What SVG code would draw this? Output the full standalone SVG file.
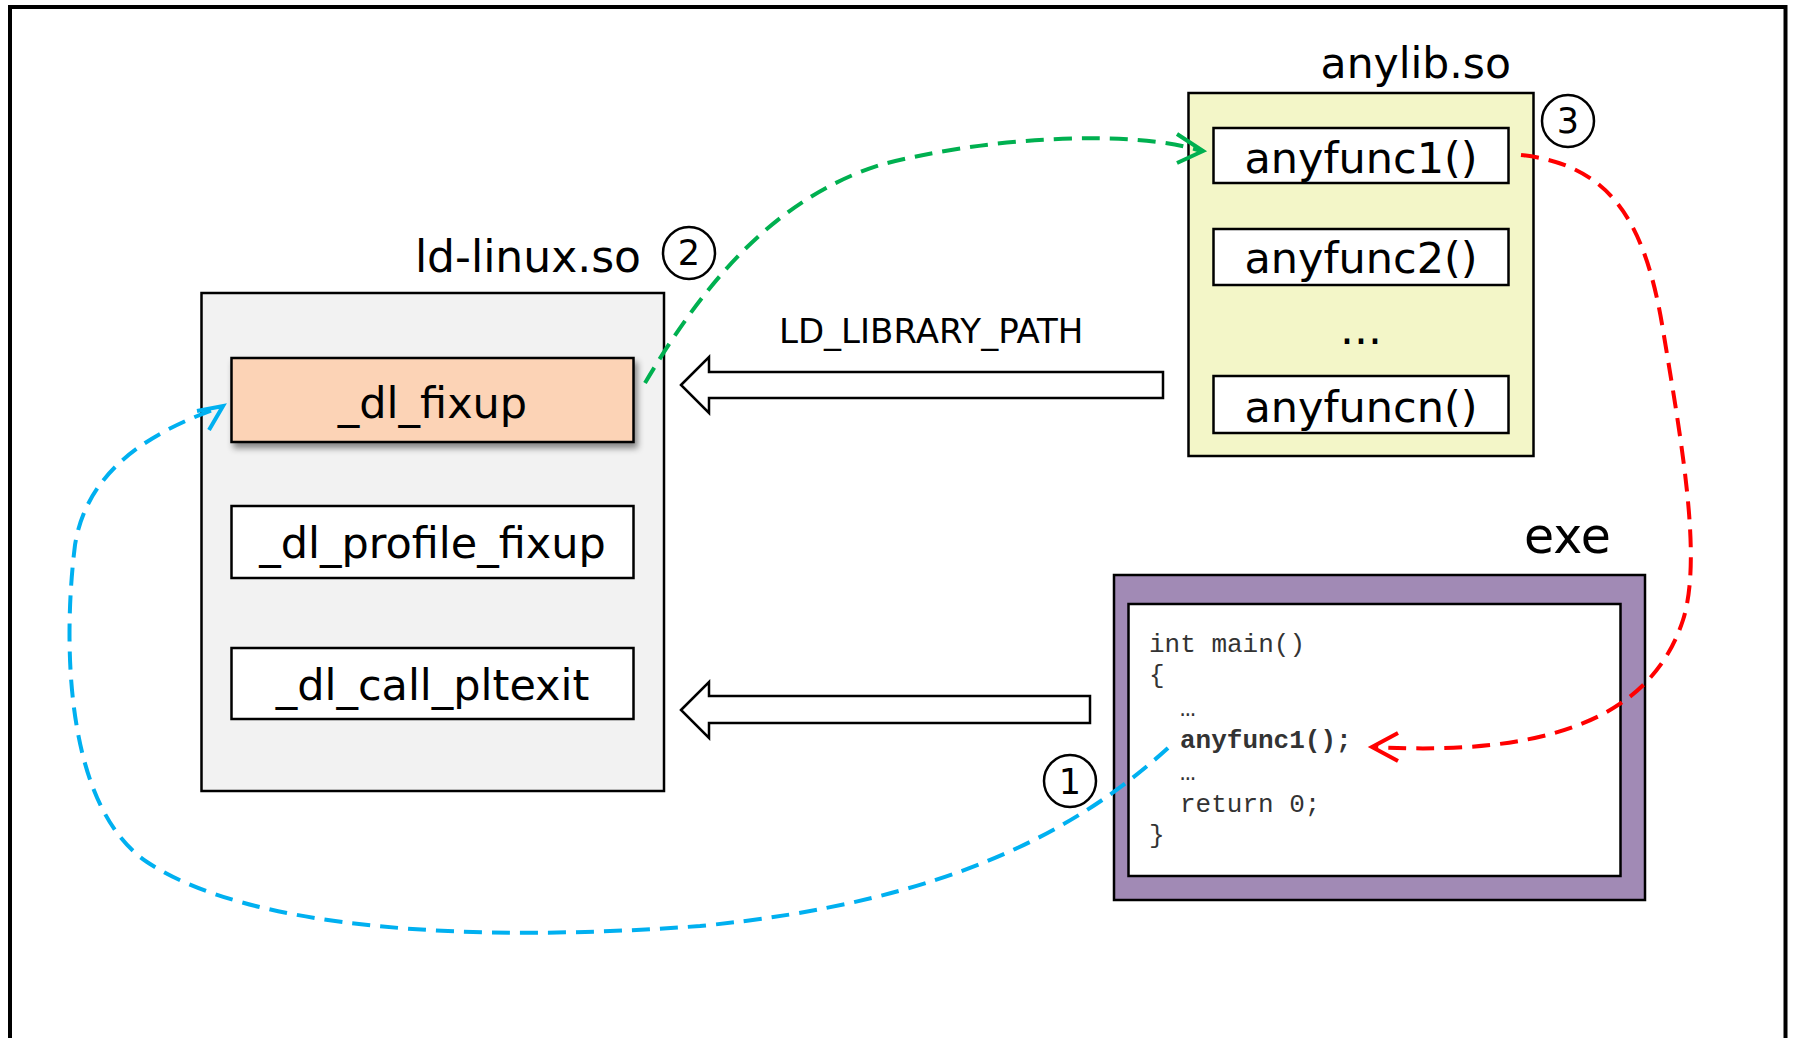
<svg xmlns="http://www.w3.org/2000/svg" width="1795" height="1038" viewBox="0 0 1795 1038">
  <style>
    .lbl { font-family: "DejaVu Sans", Verdana, sans-serif; fill: #000; }
    .big { font-size: 44px; }
    .fn { font-size: 43px; text-anchor: middle; }
    .box { stroke: #000; stroke-width: 2.5; }
    .num { font-family: "DejaVu Sans", sans-serif; font-size: 35px; text-anchor: middle; }
    .ring { fill: #fff; stroke: #000; stroke-width: 2.5; }
    .code { font-family: "Liberation Mono", "Courier New", monospace; font-size: 26px; fill: #333; }
    .blockarrow { fill: #fff; stroke: #000; stroke-width: 2.5; stroke-linejoin: miter; }
    .flow { fill: none; stroke-width: 4; stroke-dasharray: 18 10; }
    .head { fill: none; stroke-width: 4; stroke-linecap: butt; }
  </style>
  <defs>
    <filter id="shadow" x="-10%" y="-20%" width="120%" height="150%">
      <feDropShadow dx="3" dy="5" stdDeviation="3" flood-color="#000" flood-opacity="0.45"/>
    </filter>
  </defs>

  <rect width="1795" height="1038" fill="#fff"/>
  <!-- page frame (open at the bottom) -->
  <rect x="10" y="7" width="1775.5" height="1100" fill="none" stroke="#000" stroke-width="4"/>

  <!-- ld-linux.so -->
  <g id="ld-linux">
    <rect x="201.5" y="293" width="462.5" height="498" fill="#f2f2f2" stroke="#000" stroke-width="2.5"/>
    <text class="lbl big" x="641" y="272" text-anchor="end">ld-linux.so</text>
  </g>
  <g id="dl_fixup">
    <rect class="box" x="231.5" y="358" width="402" height="84" fill="#fcd3b6" filter="url(#shadow)"/>
    <text class="lbl fn" x="432.5" y="418" font-size="46">_dl_fixup</text>
  </g>
  <g id="dl_profile_fixup">
    <rect class="box" x="231.5" y="506" width="402" height="72" fill="#fff"/>
    <text class="lbl fn" x="432.5" y="558" font-size="46">_dl_profile_fixup</text>
  </g>
  <g id="dl_call_pltexit">
    <rect class="box" x="231.5" y="648" width="402" height="71" fill="#fff"/>
    <text class="lbl fn" x="432.5" y="700" font-size="46">_dl_call_pltexit</text>
  </g>
  <g id="step2">
    <circle class="ring" cx="689" cy="253" r="26"/>
    <text class="num" x="689" y="265">2</text>
  </g>

  <!-- anylib.so -->
  <g id="anylib">
    <rect x="1188.5" y="93" width="345" height="363" fill="#f3f6c8" stroke="#000" stroke-width="2.5"/>
    <text class="lbl" x="1511" y="78" font-size="42.5" text-anchor="end">anylib.so</text>
    <text class="lbl" x="1361" y="344" font-size="44" text-anchor="middle">...</text>
  </g>
  <g id="anyfunc1">
    <rect class="box" x="1213.5" y="128" width="295" height="55" fill="#fff"/>
    <text class="lbl fn" x="1361" y="173">anyfunc1()</text>
  </g>
  <g id="anyfunc2">
    <rect class="box" x="1213.5" y="229" width="295" height="56" fill="#fff"/>
    <text class="lbl fn" x="1361" y="273">anyfunc2()</text>
  </g>
  <g id="anyfuncn">
    <rect class="box" x="1213.5" y="376" width="295" height="57" fill="#fff"/>
    <text class="lbl fn" x="1361" y="422">anyfuncn()</text>
  </g>
  <g id="step3">
    <circle class="ring" cx="1568" cy="121" r="26"/>
    <text class="num" x="1568" y="133">3</text>
  </g>

  <!-- exe -->
  <g id="exe">
    <rect x="1114" y="575" width="531" height="325" fill="#a18ab5" stroke="#000" stroke-width="2.5"/>
    <rect x="1128.5" y="604" width="492" height="272" fill="#fff" stroke="#000" stroke-width="2.5"/>
    <text class="lbl" x="1611" y="553" font-size="49" text-anchor="end">exe</text>
    <text class="code" x="1149" y="652">int main()</text>
    <text class="code" x="1149" y="683">{</text>
    <text class="code" x="1180" y="716">…</text>
    <text class="code" x="1180" y="748" font-weight="bold" fill="#111">anyfunc1();</text>
    <text class="code" x="1180" y="780">…</text>
    <text class="code" x="1180" y="812">return 0;</text>
    <text class="code" x="1149" y="843">}</text>
  </g>
  <g id="step1">
    <circle class="ring" cx="1070" cy="781" r="26"/>
    <text class="num" x="1070" y="794">1</text>
  </g>

  <!-- block arrows towards the loader -->
  <g id="search-arrows">
    <polygon class="blockarrow" points="681,385 709,357 709,372 1163,372 1163,398 709,398 709,413"/>
    <text class="lbl" x="779" y="343" font-size="34">LD_LIBRARY_PATH</text>
    <polygon class="blockarrow" points="681,710 709,682 709,696 1090,696 1090,723 709,723 709,738"/>
  </g>

  <!-- dashed call flow -->
  <g id="connectors">
    <path class="flow" stroke="#00b0f0" d="M1168,748 C1080,828 950,902 700,926 C470,943 250,930 147,862 C67,808 62,650 75,545 C87,470 150,432 221,407"/>
    <polyline class="head" stroke="#00b0f0" points="197,411 223,406 209,430"/>

    <path class="flow" stroke="#00b050" d="M645,383 C700,290 770,200 880,165 C980,138 1130,128 1201,151"/>
    <polyline class="head" stroke="#00b050" points="1177,134 1203,151 1177,163"/>

    <path class="flow" stroke="#ff0000" d="M1521,155 C1610,165 1645,220 1663,330 C1683,450 1702,560 1683,620 C1650,722 1540,756 1374,747"/>
    <polyline class="head" stroke="#ff0000" points="1398,733 1372,747 1398,761"/>
  </g>
</svg>
